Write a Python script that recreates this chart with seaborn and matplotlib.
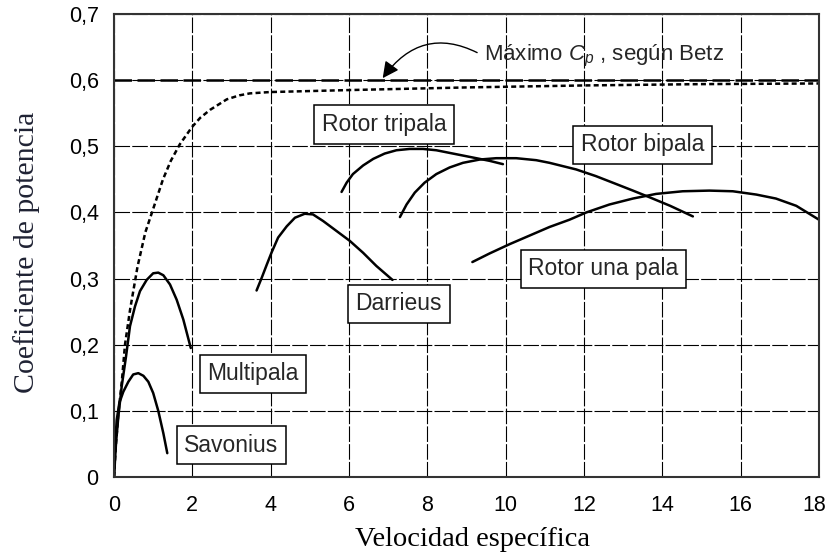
import matplotlib
matplotlib.use("Agg")
import matplotlib.pyplot as plt
import matplotlib.transforms as mtransforms
import seaborn as sns

# Curves (x = velocidad especifica, y = Cp)
betz_x = [0, 18]
betz_y = [0.6, 0.6]

ideal_x = [0, 0.05, 0.11, 0.2, 0.28, 0.41, 0.6, 0.8, 0.97, 1.25, 1.45, 1.68, 1.99,
           2.2, 2.45, 2.88, 3.2, 3.47, 3.98, 6, 9, 12, 15, 18]
ideal_y = [0, 0.05, 0.095, 0.145, 0.2, 0.253, 0.318, 0.37, 0.40, 0.45, 0.478, 0.503, 0.529,
           0.543, 0.555, 0.571, 0.577, 0.580, 0.582, 0.585, 0.589, 0.592, 0.594, 0.595]

savonius_x = [0, 0.026, 0.068, 0.136, 0.238, 0.366, 0.49, 0.62, 0.75, 0.876, 1.0, 1.13, 1.26, 1.36]
savonius_y = [0, 0.046, 0.086, 0.112, 0.129, 0.144, 0.155, 0.157, 0.153, 0.144, 0.127, 0.10, 0.066, 0.036]

multipala_x = [0, 0.051, 0.11, 0.196, 0.306, 0.408, 0.536, 0.663, 0.834, 1.0, 1.13, 1.26,
               1.43, 1.6, 1.77, 1.96]
multipala_y = [0, 0.051, 0.091, 0.137, 0.182, 0.228, 0.258, 0.281, 0.298, 0.308, 0.309, 0.305,
               0.291, 0.268, 0.238, 0.195]

darrieus_x = [3.64, 3.77, 3.9, 4.02, 4.19, 4.41, 4.62, 4.87, 5.08, 5.34, 5.68, 6.02, 6.36, 6.7, 7.11]
darrieus_y = [0.282, 0.301, 0.321, 0.339, 0.362, 0.379, 0.392, 0.398, 0.397, 0.387, 0.372, 0.357,
              0.339, 0.319, 0.298]

tripala_x = [5.81, 5.94, 6.1, 6.36, 6.62, 6.91, 7.21, 7.55, 7.89, 8.23, 8.57, 8.91, 9.25, 9.59, 9.93]
tripala_y = [0.431, 0.445, 0.458, 0.471, 0.481, 0.489, 0.494, 0.496, 0.496, 0.494, 0.49, 0.486,
             0.482, 0.478, 0.473]

bipala_x = [7.3, 7.47, 7.68, 7.93, 8.23, 8.57, 8.91, 9.34, 9.76, 10.27, 10.78, 11.12, 11.8,
            12.3, 12.82, 13.25, 13.67, 14.2, 14.78]
bipala_y = [0.393, 0.412, 0.43, 0.445, 0.458, 0.468, 0.475, 0.48, 0.482, 0.482, 0.479, 0.475, 0.465,
            0.455, 0.443, 0.433, 0.423, 0.41, 0.394]

unapala_x = [9.15, 9.59, 10.1, 10.61, 11.12, 11.63, 12.06, 12.65, 13.25, 13.84, 14.52, 15.2,
             15.8, 16.4, 16.9, 17.42, 18.0]
unapala_y = [0.325, 0.338, 0.352, 0.365, 0.378, 0.389, 0.40, 0.412, 0.421, 0.428, 0.432, 0.433,
             0.432, 0.427, 0.421, 0.41, 0.389]

labels = ["Rotor tripala", "Rotor bipala", "Rotor una pala", "Darrieus", "Multipala", "Savonius"]
label_x = [6.89, 13.5, 12.5, 7.27, 3.55, 3.0]
label_y = [0.533, 0.502, 0.315, 0.262, 0.156, 0.048]

xticks = [0, 2, 4, 6, 8, 10, 12, 14, 16, 18]
yticks = [0, 0.1, 0.2, 0.3, 0.4, 0.5, 0.6, 0.7]
ytick_labels = ["0", "0,1", "0,2", "0,3", "0,4", "0,5", "0,6", "0,7"]

sns.set_style("white")
plt.rcParams["font.family"] = ["Liberation Sans", "DejaVu Sans"]
plt.rcParams["mathtext.fontset"] = "custom"
plt.rcParams["mathtext.rm"] = "Liberation Sans"
plt.rcParams["mathtext.it"] = "Liberation Sans:italic"

fig = plt.figure(figsize=(8.28, 5.56), dpi=100)
ax = fig.add_axes([0.1377, 0.1421, 0.8514, 0.8327])

lw = 1.8
sns.lineplot(x=betz_x, y=betz_y, ax=ax, color="black", lw=lw, sort=False,
             estimator=None, linestyle=(0, (7, 2.2)))
sns.lineplot(x=ideal_x, y=ideal_y, ax=ax, color="black", lw=lw, sort=False,
             estimator=None, linestyle=(0, (2, 1.3)))
for cx, cy in [(savonius_x, savonius_y), (multipala_x, multipala_y),
               (darrieus_x, darrieus_y), (tripala_x, tripala_y),
               (bipala_x, bipala_y), (unapala_x, unapala_y)]:
    sns.lineplot(x=cx, y=cy, ax=ax, color="black", lw=lw, sort=False, estimator=None)

for t, lx, ly in zip(labels, label_x, label_y):
    ax.text(lx, ly, t, ha="center", va="center", fontsize=16.5, zorder=5,
            bbox=dict(boxstyle="square,pad=0.33", fc="white", ec="black", lw=1.1))

ax.annotate("Máximo $C_p$ , según Betz", xy=(6.86, 0.603), xytext=(9.45, 0.636),
            ha="left", va="center", fontsize=16,
            arrowprops=dict(arrowstyle="-|>,head_length=0.7,head_width=0.35",
                            connectionstyle="arc3,rad=0.45", color="black",
                            lw=1.0, relpos=(0, 0.5), shrinkA=3, shrinkB=0,
                            mutation_scale=14))

ax.set_xlim(0, 18)
ax.set_ylim(0, 0.7)
ax.set_xticks(xticks)
ax.set_xticklabels([str(v) for v in xticks])
ax.set_yticks(yticks)
ax.set_yticklabels(ytick_labels)
ax.tick_params(axis="both", length=0, labelsize=15.5, colors="black")
ax.tick_params(axis="y", pad=11)
ax.tick_params(axis="x", pad=13)
# keep the last x label inside the canvas
last = ax.get_xticklabels()[-1]
last.set_transform(last.get_transform() + mtransforms.ScaledTranslation(-5 / 100, 0, fig.dpi_scale_trans))
ax.grid(True, color="black", lw=0.8, linestyle=(0, (14, 2)))
ax.set_axisbelow(True)
for s in ax.spines.values():
    s.set_color("#333333")
    s.set_linewidth(1.5)

ax.set_xlabel("Velocidad específica", family=["Liberation Serif"], fontsize=20.5, color="black")
ax.set_ylabel("Coeficiente de potencia", family=["Liberation Serif"], fontsize=21.5, color="#1f2233")
ax.xaxis.label.set_va("center")
ax.yaxis.label.set_va("center")
ax.xaxis.set_label_coords(0.508, -0.134)
ax.yaxis.set_label_coords(-0.124, 0.486)

fig.savefig("out.png", dpi=100)
